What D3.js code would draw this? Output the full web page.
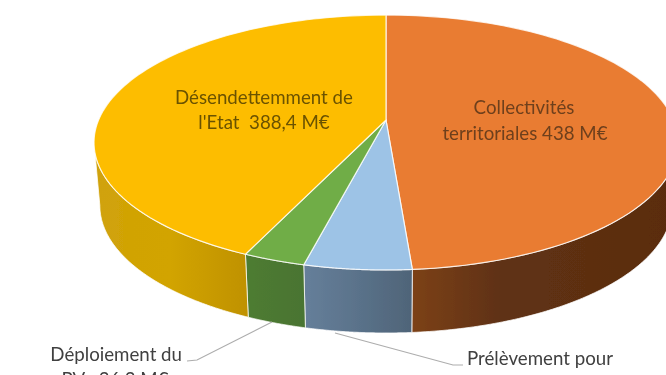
<!DOCTYPE html>
<html><head><meta charset="utf-8">
<script src="https://cdn.jsdelivr.net/npm/d3@7"></script>
<style>html,body{margin:0;background:#fff}svg{display:block}text{font-family:Lato,"Open Sans",sans-serif}</style>
</head><body><svg id="c" width="666" height="375"></svg>
<script>
const categories=["Collectivités territoriales","Prélèvement","Déploiement du PV","Désendettemment de l'Etat"];
const values=[438,45,26.2,388.4];
const topColors=["#E97C30","#9DC3E6","#70AD47","#FDBD00"];
const wallStops=[["#7C4118","#5F3113","#5D2F11","#5A2C10"],["#667F9A","#5A728A","#4F6478"],["#4E7C32","#4C7830","#4A7430"],["#D0A20A","#D2A400","#C09200"]];
const labelLines=[["Collectivités","territoriales 438 M€"],["Désendettemment de","l'Etat  388,4 M€"]];
const svg=d3.select("#c");
const apexX=386,apexY=120,b=287.4,a=123.5,k=0.1765,depth=63,wallScale=0.98;
const proj=t=>{const X=Math.sin(t),Y=-Math.cos(t),w=1-k*Y;return [apexX+b*X/w,apexY+a*Y/w];};
const pie=d3.pie().sort(null)(values);
const line=d3.line();
const arcPts=(s,e)=>d3.range(0,101).map(i=>proj(s+(e-s)*i/100));
const defs=svg.append("defs");
const g=svg.append("g").attr("filter","url(#soft)");
defs.append("filter").attr("id","soft").append("feGaussianBlur").attr("stdDeviation",0.45);
// walls: from the ellipse's rightmost to its leftmost point
const lo=Math.PI/2+0.177,hi=3*Math.PI/2-0.177;
pie.forEach((d,i)=>{
  const s=Math.max(d.startAngle,lo),e=Math.min(d.endAngle,hi);
  const pts=arcPts(s,e);
  const x0=d3.min(pts,p=>p[0]),x1=d3.max(pts,p=>p[0]);
  const id="w"+i;
  const gr=defs.append("linearGradient").attr("id",id).attr("gradientUnits","userSpaceOnUse").attr("x1",x0).attr("x2",x1).attr("y1",0).attr("y2",0);
  const stops=wallStops[i];
  stops.forEach((c,j)=>gr.append("stop").attr("offset",j/(stops.length-1)).attr("stop-color",c));
  const low=pts.map(p=>[apexX+(p[0]-apexX)*wallScale,p[1]+depth]).reverse();
  g.append("path").attr("d",line(pts.concat(low))+"Z").attr("fill",`url(#${id})`).attr("stroke","#fff").attr("stroke-opacity",.75).attr("stroke-width",1);
});
// top face
pie.forEach((d,i)=>{
  const pts=[[apexX,apexY]].concat(arcPts(d.startAngle,d.endAngle));
  g.append("path").attr("d",line(pts)+"Z").attr("fill",topColors[i]).attr("stroke","#fff").attr("stroke-opacity",.8).attr("stroke-width",1.2).attr("stroke-linejoin","round");
});
// leaders
g.append("path").attr("d",line([[187,361],[197,360],[272,322]])).attr("fill","none").attr("stroke","#adadad").attr("stroke-width",1.2);
g.append("path").attr("d",line([[335,333],[453,365],[463,365]])).attr("fill","none").attr("stroke","#adadad").attr("stroke-width",1.2);
// labels
const txt=(x,y,s,fill,anchor="middle")=>g.append("text").attr("x",x).attr("y",y).attr("text-anchor",anchor).attr("fill",fill).attr("font-size",18.7).style("white-space","pre").text(s);
txt(524,114,labelLines[0][0],"#6e3f1e");
txt(525,140,labelLines[0][1],"#6e3f1e");
txt(264,104,labelLines[1][0],"#6b5200");
txt(264,129,labelLines[1][1],"#6b5200");
txt(182,361,"Déploiement du","#404040","end");
txt(115,386,"PV : 26,2 M€","#404040");
txt(467,365,"Prélèvement pour","#404040","start");
txt(468,389,"la dotation de l'Etat","#404040","start");
</script></body></html>
